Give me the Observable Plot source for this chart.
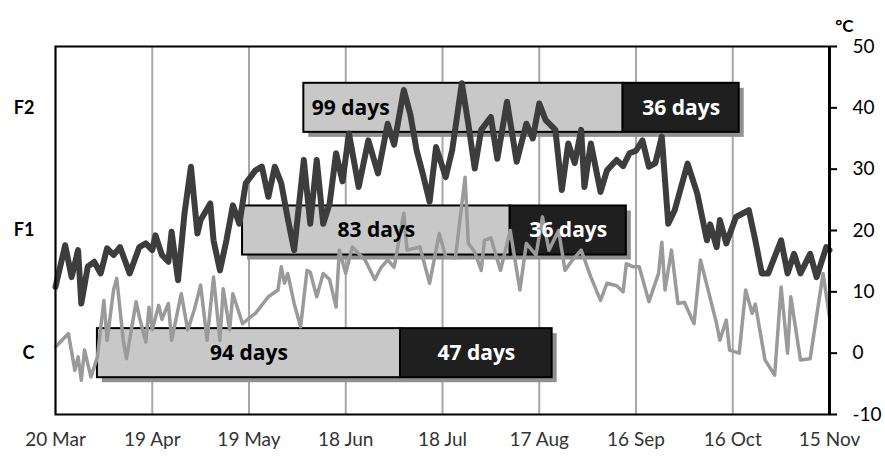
<!DOCTYPE html>
<html>
<head>
<meta charset="utf-8">
<script src="https://cdn.jsdelivr.net/npm/d3@7"></script>
<script src="https://cdn.jsdelivr.net/npm/@observablehq/plot@0.6"></script>
<style>
  html, body { margin: 0; padding: 0; background: #fff; }
  #chart svg { display: block; }
  g[aria-label="shadow"] { filter: blur(2.5px); }
</style>
</head>
<body>
<div id="chart"></div>
<script>
// ---- Data ----
const startDate = "2011-03-20";
const tickOffsets = [0, 30, 60, 90, 120, 150, 180, 210, 240]; // days after 20 Mar
const tickLabels = ["20 Mar", "19 Apr", "19 May", "18 Jun", "18 Jul", "17 Aug", "16 Sep", "16 Oct", "15 Nov"];
const yTicks = [-10, 0, 10, 20, 30, 40, 50];

// dark (thick) temperature series: day offset and °C
const darkDays = [0,3,5,7,8,10,12,14,16,18,20,23,26,28,30,31,33,35,36,38,40,42,44,45,48,49,51,53,55,57,59,62,64,66,68,70,72,74,77,79,81,83,85,87,89,91,94,97,100,103,105,108,110,112,114,116,118,121,123,126,128,130,132,135,137,140,143,146,148,150,152,155,157,159,161,163,164,166,169,171,174,176,178,180,182,184,186,188,190,192,196,199,202,203,205,206,208,211,215,217,219,221,225,227,229,231,234,236,239,240];
const darkTemps = [10.8,17.6,12.4,16.8,8.1,14.1,14.9,13,17.1,16,17.3,13,17.3,17.9,16.8,19.2,16,14.9,19.8,11.9,22.8,30.4,19.5,21.7,24.4,18.4,13.5,18.4,24.1,21.1,27.7,29.8,30.4,25.5,30.4,27.7,22,16.8,31.5,21.1,31.5,21.1,24.4,32.6,28,35.8,27.1,34.7,29.3,37.4,34,42.9,39,33,29,24.7,33.6,28.7,33.1,44,37.4,30.1,36.4,38.5,31.7,41,31.2,37.4,35,40.7,38,36.4,26.6,34.2,31,36.4,27.1,34.2,26.3,29.8,31.5,30.5,32.6,33,34.7,30.4,31,35.3,21.1,23.3,30.9,26,18.4,21,17.3,21.7,17.9,22.2,23.3,18.4,13,13,18.4,13,16.2,13,16.2,12.4,17.3,16.8];

// light (thin) temperature series: day offset and °C
const lightDays = [0,4,6,7,8,9,11,13,15,16,18,19,21,22,25,26,28,29,30,32,33,35,36,39,41,43,45,47,49,51,52,54,55,58,60,62,66,69,70,71,72,74,76,78,79,81,83,85,87,88,90,92,96,99,101,103,105,108,109,113,116,119,121,124,127,128,130,132,133,135,137,138,141,144,146,149,151,153,156,158,160,163,166,169,171,174,176,177,179,181,184,187,188,189,191,193,195,198,200,205,206,208,209,212,214,216,217,220,223,225,227,228,231,234,238,240];
const lightTemps = [1,3.2,-2.8,-0.6,-4.4,0.5,-3.9,-0.6,8.6,2.1,10.3,12.2,2.1,-0.9,8.4,5.9,1.8,7.5,3.8,7.8,5.5,8.1,2.1,9.7,3.8,7,11.1,2.1,12.4,2.1,10.5,3.8,9.7,4.8,5.7,6.5,9.2,10.3,14.1,11.4,13,8.1,4.3,13.5,13.2,9.2,13,12,7.5,16.8,13,17.3,15.2,12,14,15.2,14,22.8,16.8,17.3,11.4,19.5,15.7,15.5,28.7,17.9,16.5,13.5,18.4,18.8,15.2,13.5,20,10.3,17.9,16,22.2,16.8,20,13.5,15,16.8,12.4,8.6,11.4,11,10,14.6,14.1,14.1,8.4,13,18.1,10.3,16.8,8.1,8.3,4.8,15.2,4.8,2.1,5.4,0.5,0,10.3,6.5,8,-1.1,-3.6,10.8,0,9.2,-1.1,-0.9,13,5.9];

// bars
const rowNames = ["F2", "F1", "C"];
const rowLevels = [40, 20, 0];          // row centre on the °C scale
const rowStartDays = [77, 58, 13];      // day offsets from 20 Mar
const lightDurations = [99, 83, 94];
const darkDurations = [36, 36, 47];

// ---- Build tables ----
const t0 = new Date(startDate + "T00:00:00Z");
const day = n => d3.utcDay.offset(t0, n);
const tickDates = tickOffsets.map(day);
const darkSeries = darkDays.map((d, i) => ({date: day(d), temp: darkTemps[i]}));
const lightSeries = lightDays.map((d, i) => ({date: day(d), temp: lightTemps[i]}));
const bars = rowNames.map((r, i) => ({
  row: r,
  level: rowLevels[i],
  start: day(rowStartDays[i]),
  mid: day(rowStartDays[i] + lightDurations[i]),
  end: day(rowStartDays[i] + lightDurations[i] + darkDurations[i]),
  lightLabel: lightDurations[i] + " days",
  darkLabel: darkDurations[i] + " days"
}));
const half = 4;
const labelFont = "'Open Sans', sans-serif";

const plot = Plot.plot({
  width: 885,
  height: 457,
  marginLeft: 55,
  marginRight: 56,
  marginTop: 46,
  marginBottom: 43,
  style: {fontFamily: "Lato, sans-serif", background: "#fff"},
  x: {type: "utc", domain: [day(0), day(240)]},
  y: {domain: [-10, 50]},
  marks: [
    Plot.ruleX(tickDates, {stroke: "#a8a8a8", strokeWidth: 2}),
    Plot.rect(bars, {x1: "start", x2: "end", y1: d => d.level - half, y2: d => d.level + half,
      fill: "#8f8f8f", dx: 5, dy: 5, ariaLabel: "shadow"}),
    Plot.rect(bars, {x1: "start", x2: "mid", y1: d => d.level - half, y2: d => d.level + half,
      fill: "#c8c8c8", stroke: "black", strokeWidth: 2}),
    Plot.rect(bars, {x1: "mid", x2: "end", y1: d => d.level - half, y2: d => d.level + half,
      fill: "#1f1f1f", stroke: "black", strokeWidth: 2}),
    Plot.line(lightSeries, {x: "date", y: "temp", stroke: "#9a9a9a", strokeWidth: 3.5}),
    Plot.line(darkSeries, {x: "date", y: "temp", stroke: "#3d3d3d", strokeWidth: 6}),
    Plot.text(bars.filter(d => d.row === "F2"), {x: "start", y: "level", text: "lightLabel",
      textAnchor: "start", dx: 8, fontSize: 21, fontWeight: "bold", fontFamily: labelFont, fill: "black"}),
    Plot.text(bars.filter(d => d.row !== "F2"), {x: d => new Date((+d.start + +d.mid) / 2), y: "level", text: "lightLabel",
      fontSize: 21, fontWeight: "bold", fontFamily: labelFont, fill: "black"}),
    Plot.text(bars, {x: d => new Date((+d.mid + +d.end) / 2), y: "level", text: "darkLabel",
      fontSize: 21, fontWeight: "bold", fontFamily: labelFont, fill: "white"}),
    Plot.frame({stroke: "black", strokeWidth: 2}),
    Plot.ruleX([day(240)], {stroke: "black", strokeWidth: 3}),
    Plot.axisX({ticks: tickDates, tickFormat: (d, i) => tickLabels[i], tickSize: 0, tickPadding: 18,
      fontSize: 19, color: "#333"}),
    Plot.axisY({anchor: "right", ticks: yTicks, tickFormat: d => (d < 0 ? "-" + (-d) : String(d)),
      tickSize: 7, tickPadding: 16, fontSize: 19, textAnchor: "start", color: "black", strokeWidth: 2}),
    Plot.axisY({anchor: "left", ticks: rowLevels, tickFormat: (d, i) => rowNames[rowLevels.indexOf(d)],
      tickSize: 0, tickPadding: 21, fontSize: 18, fontWeight: "bold", color: "black"}),
    Plot.text(["°C"], {frameAnchor: "top-right", dx: 24, dy: -27, text: d => d, fontSize: 17,
      fontWeight: "bold", fill: "black"})
  ]
});
document.getElementById("chart").appendChild(plot);
</script>
</body>
</html>
